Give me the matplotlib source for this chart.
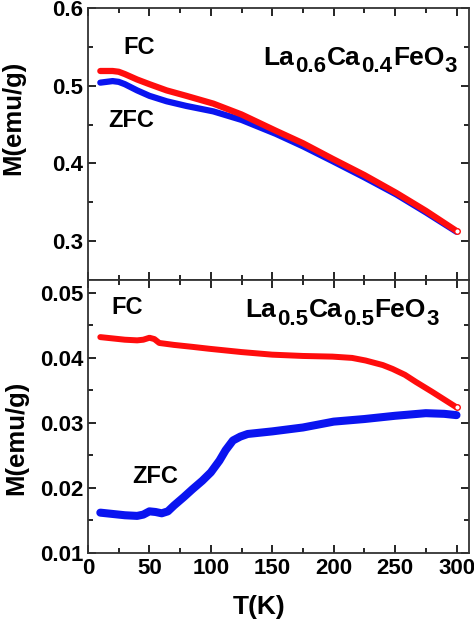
import numpy as np
import matplotlib
matplotlib.use("Agg")
from matplotlib import pyplot as plt
from matplotlib import transforms
from matplotlib.ticker import MultipleLocator

plt.rcParams['font.family'] = ['Liberation Sans', 'DejaVu Sans']
plt.rcParams['font.weight'] = 'bold'

# ---- data: La0.6Ca0.4FeO3 ----
t_top = [10, 15, 20, 25, 30, 40, 50, 64, 80, 102, 125, 153, 175, 199, 225, 251, 275, 300]
fc_top = [0.519, 0.519, 0.519, 0.518, 0.515, 0.508, 0.502, 0.494, 0.487, 0.477, 0.463, 0.442, 0.426, 0.406, 0.385, 0.362, 0.339, 0.313]
zfc_top = [0.504, 0.505, 0.506, 0.505, 0.502, 0.494, 0.487, 0.480, 0.474, 0.467, 0.456, 0.438, 0.422, 0.403, 0.382, 0.360, 0.337, 0.312]

# ---- data: La0.5Ca0.5FeO3 ----
t_fc = [10, 20, 30, 40, 45, 50, 54, 58, 70, 85, 99, 125, 150, 175, 199, 215, 226, 240, 248, 258, 267, 280, 290, 300]
fc_bot = [0.0432, 0.0430, 0.0428, 0.0427, 0.0428, 0.0431, 0.0429, 0.0423, 0.0420, 0.0417, 0.0414, 0.0409, 0.0405, 0.0403, 0.0402, 0.0400, 0.0396, 0.0389, 0.0383, 0.0374, 0.0363, 0.0348, 0.0336, 0.0324]
t_zfc = [10, 20, 30, 40, 45, 50, 55, 60, 65, 70, 78, 85, 93, 100, 107, 112, 118, 124, 130, 150, 175, 200, 225, 250, 275, 290, 300]
zfc_bot = [0.0162, 0.0160, 0.0158, 0.0157, 0.0159, 0.0164, 0.0163, 0.0161, 0.0164, 0.0173, 0.0186, 0.0198, 0.0211, 0.0224, 0.0242, 0.0258, 0.0273, 0.0279, 0.0283, 0.0287, 0.0293, 0.0302, 0.0306, 0.0311, 0.0315, 0.0314, 0.0312]

RED = '#ff0d0d'
BLUE = '#0a14f0'

fig = plt.figure(figsize=(4.74, 6.22), dpi=100)
left, right = 0.1857, 0.989
ax1 = fig.add_axes([left, 0.55, right - left, 0.987 - 0.55])
ax2 = fig.add_axes([left, 0.111, right - left, 0.55 - 0.111])
renderer = fig.canvas.get_renderer()


def style(ax):
    ax.set_xlim(0, 310)
    ax.xaxis.set_major_locator(MultipleLocator(50))
    ax.xaxis.set_minor_locator(MultipleLocator(25))
    ax.tick_params(which='both', direction='in', top=True, right=True,
                   labelsize=16, width=1.2)
    ax.tick_params(which='major', length=6)
    ax.tick_params(which='minor', length=3.5)
    for s in ax.spines.values():
        s.set_linewidth(1.3)
        s.set_color('#333333')
    for lab in ax.get_xticklabels() + ax.get_yticklabels():
        lab.set_fontweight('bold')


def formula(ax, x, y, pieces, size=19, subsize=16, drop=5.5, gap=0.5):
    # write a chemical formula piece by piece, subscripts lowered
    dx = 0
    for txt, sub in pieces:
        tr = transforms.offset_copy(ax.transData, fig=fig, x=dx,
                                    y=-drop if sub else 0, units='points')
        t = ax.text(x, y, txt, fontsize=subsize if sub else size,
                    fontweight='bold', ha='left', va='baseline', transform=tr)
        w = t.get_window_extent(renderer).width
        dx += w * 72.0 / fig.dpi + gap


# top panel
ax1.plot(t_top, zfc_top, color=BLUE, lw=4.5, solid_capstyle='round')
ax1.plot(t_top, fc_top, color=RED, lw=4.5, solid_capstyle='round')
ax1.plot(t_top[-1], fc_top[-1], 'o', ms=4, mfc='white', mec=RED, mew=1)
ax1.set_ylim(0.25, 0.6)
ax1.yaxis.set_major_locator(MultipleLocator(0.1))
ax1.yaxis.set_minor_locator(MultipleLocator(0.05))
style(ax1)
ax1.set_yticks([0.3, 0.4, 0.5, 0.6])
ax1.tick_params(labelbottom=False)
ax1.set_ylabel('M(emu/g)', fontsize=18.5, fontweight='bold')
ax1.yaxis.set_label_coords(-0.166, 0.595)
ax1.text(42, 0.549, 'FC', fontsize=17, fontweight='bold', ha='center', va='center')
ax1.text(35, 0.455, 'ZFC', fontsize=17, fontweight='bold', ha='center', va='center')
formula(ax1, 143, 0.527, [('La', False), ('0.6', True), ('Ca', False),
                          ('0.4', True), ('FeO', False), ('3', True)])

# bottom panel
ax2.plot(t_zfc, zfc_bot, color=BLUE, lw=5.8, solid_capstyle='round')
ax2.plot(t_fc, fc_bot, color=RED, lw=4.3, solid_capstyle='round')
ax2.plot(t_fc[-1], fc_bot[-1], 'o', ms=4, mfc='white', mec=RED, mew=1)
ax2.set_ylim(0.01, 0.052)
ax2.yaxis.set_major_locator(MultipleLocator(0.01))
ax2.yaxis.set_minor_locator(MultipleLocator(0.005))
style(ax2)
ax2.set_ylabel('M(emu/g)', fontsize=18.5, fontweight='bold')
ax2.yaxis.set_label_coords(-0.158, 0.42)
ax2.set_xlabel('T(K)', fontsize=19, fontweight='bold')
ax2.xaxis.set_label_coords(0.45, -0.155)
ax2.text(31.5, 0.0477, 'FC', fontsize=17, fontweight='bold', ha='center', va='center')
ax2.text(54.5, 0.0218, 'ZFC', fontsize=17, fontweight='bold', ha='center', va='center')
formula(ax2, 128, 0.0463, [('La', False), ('0.5', True), ('Ca', False),
                           ('0.5', True), ('FeO', False), ('3', True)])

fig.savefig('out.png', dpi=100)
